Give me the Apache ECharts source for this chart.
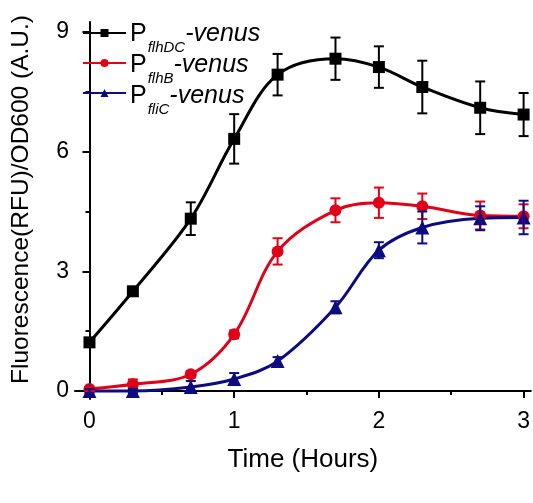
<!DOCTYPE html>
<html>
<head>
<meta charset="utf-8">
<script src="https://cdn.jsdelivr.net/npm/echarts@6/dist/echarts.min.js"></script>
<style>
  html, body { margin: 0; padding: 0; background: #fff; }
  #chart { width: 533px; height: 503px; }
</style>
</head>
<body>
<div id="chart"></div>
<script>
const times = [0, 0.3, 0.7, 1, 1.3, 1.7, 2, 2.3, 2.7, 3];

const flhDC = [1.22, 2.5, 4.32, 6.32, 7.93, 8.33, 8.12, 7.62, 7.1, 6.93];
const flhDCErr = [0.08, 0.08, 0.41, 0.62, 0.52, 0.53, 0.52, 0.66, 0.66, 0.54];

const flhB = [0.05, 0.17, 0.42, 1.42, 3.5, 4.53, 4.72, 4.63, 4.4, 4.38];
const flhBErr = [0.05, 0.12, 0.08, 0.1, 0.33, 0.3, 0.38, 0.32, 0.35, 0.3];

const fliC = [0.0, 0.0, 0.1, 0.3, 0.75, 2.1, 3.53, 4.1, 4.33, 4.35];
const fliCErr = [0.05, 0.05, 0.15, 0.15, 0.1, 0.15, 0.2, 0.4, 0.3, 0.42];

const xTicks = [0, 1, 2, 3];
const xMinor = [0.5, 1.5, 2.5];
const yTicks = [0, 3, 6, 9];
const yMinor = [1.5, 4.5, 7.5];

const names = ['flhDC', 'flhB', 'fliC'];
const colors = ['#000000', '#e0001a', '#0c0c80'];
const symbols = ['rect', 'circle', 'triangle'];

const FONT = 'Liberation Sans, Arial, sans-serif';

const chart = echarts.init(document.getElementById('chart'));

function pairs(vals) {
  return times.map((t, i) => [t, vals[i]]);
}
function errData(vals, errs) {
  return times.map((t, i) => [t, vals[i] - errs[i], vals[i] + errs[i]]);
}

function errRender(color) {
  return function (params, api) {
    const x = api.value(0);
    const lo = api.coord([x, api.value(1)]);
    const hi = api.coord([x, api.value(2)]);
    const cap = 5;
    const style = { stroke: color, lineWidth: 2, fill: null };
    return {
      type: 'group',
      children: [
        { type: 'line', shape: { x1: lo[0], y1: lo[1], x2: hi[0], y2: hi[1] }, style },
        { type: 'line', shape: { x1: lo[0] - cap, y1: lo[1], x2: lo[0] + cap, y2: lo[1] }, style },
        { type: 'line', shape: { x1: hi[0] - cap, y1: hi[1], x2: hi[0] + cap, y2: hi[1] }, style }
      ]
    };
  };
}

const values = [flhDC, flhB, fliC];
const errors = [flhDCErr, flhBErr, fliCErr];

const series = [];
names.forEach((n, i) => {
  series.push({
    name: n,
    type: 'line',
    data: pairs(values[i]),
    smooth: 0.35,
    symbol: symbols[i],
    symbolSize: symbols[i] === 'triangle' ? 14 : 12,
    lineStyle: { color: colors[i], width: 3 },
    itemStyle: { color: colors[i] },
    z: 3
  });
  series.push({
    name: n,
    type: 'custom',
    renderItem: errRender(colors[i]),
    data: errData(values[i], errors[i]),
    encode: { x: 0, y: [1, 2] },
    z: 4
  });
});

// legend labels: P + italic subscript + italic "-venus", laid out next to the legend icons
const fontP = '25px ' + FONT;
const fontSub = 'italic 15px ' + FONT;
const fontVenus = 'italic 25px ' + FONT;
function textWidth(text, font) {
  return new echarts.graphic.Text({ style: { text, font } }).getBoundingRect().width;
}
const legendTop = 28, rowStep = 31, textLeft = 130;
const labelGraphics = [];
names.forEach((n, i) => {
  const yc = legendTop + 5 + rowStep * i;
  const wP = textWidth('P', fontP);
  const wS = textWidth(n, fontSub);
  labelGraphics.push(
    { type: 'text', x: textLeft, y: yc + 1, style: { text: 'P', font: fontP, fill: '#000', verticalAlign: 'middle' } },
    { type: 'text', x: textLeft + wP + 1, y: yc + 15, style: { text: n, font: fontSub, fill: '#000', verticalAlign: 'middle' } },
    { type: 'text', x: textLeft + wP + 1 + wS, y: yc + 1, style: { text: '-venus', font: fontVenus, fill: '#000', verticalAlign: 'middle' } }
  );
});

const axisLine = { lineStyle: { color: '#000', width: 2 } };

chart.setOption({
  animation: false,
  backgroundColor: '#fff',
  grid: { left: 75, right: 1, top: 22, bottom: 104 },
  legend: {
    orient: 'vertical',
    left: 82,
    top: legendTop,
    padding: 0,
    itemWidth: 43,
    itemHeight: 10,
    itemGap: rowStep - 10,
    selectedMode: false,
    data: names,
    formatter: () => ''
  },
  graphic: labelGraphics,
  xAxis: [{
    type: 'value',
    min: -0.1,
    max: 3.05,
    name: 'Time (Hours)',
    nameLocation: 'middle',
    nameGap: 48,
    nameTextStyle: { fontSize: 26, fontFamily: FONT, color: '#000' },
    axisLine,
    splitLine: { show: false },
    axisTick: { customValues: xTicks, length: 7, lineStyle: { width: 2, color: '#000' } },
    axisLabel: { customValues: xTicks, fontSize: 23, fontFamily: FONT, color: '#000', margin: 11 }
  }, {
    type: 'value',
    min: -0.1,
    max: 3.05,
    position: 'bottom',
    axisLine: { show: false },
    splitLine: { show: false },
    axisLabel: { show: false },
    axisTick: { customValues: xMinor, length: 4, lineStyle: { width: 2, color: '#000' } }
  }],
  yAxis: [{
    type: 'value',
    min: -0.2,
    max: 9.25,
    name: 'Fluorescence(RFU)/OD600 (A.U.)',
    nameLocation: 'middle',
    nameGap: 41,
    nameTextStyle: { fontSize: 24.5, fontFamily: FONT, color: '#000', padding: [0, 0, 0, 22] },
    axisLine: { show: true, lineStyle: { color: '#000', width: 2 } },
    splitLine: { show: false },
    axisTick: { show: true, customValues: yTicks, length: 7, lineStyle: { width: 2, color: '#000' } },
    axisLabel: { customValues: yTicks, fontSize: 23, fontFamily: FONT, color: '#000', margin: 6 }
  }, {
    type: 'value',
    min: -0.2,
    max: 9.25,
    position: 'left',
    axisLine: { show: false },
    splitLine: { show: false },
    axisLabel: { show: false },
    axisTick: { show: true, customValues: yMinor, length: 4, lineStyle: { width: 2, color: '#000' } }
  }],
  series
});
</script>
</body>
</html>
